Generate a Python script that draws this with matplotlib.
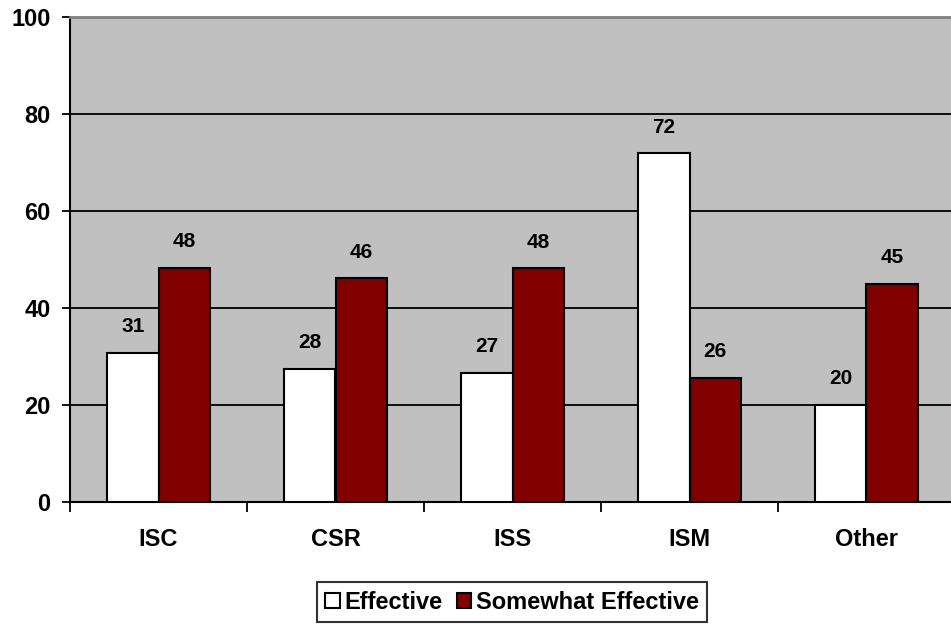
import matplotlib
matplotlib.use("Agg")
import matplotlib.pyplot as plt
import numpy as np

plt.rcParams['font.family'] = ['Liberation Sans', 'DejaVu Sans']
plt.rcParams['font.weight'] = 'bold'

# survey results, percent
categories = ["ISC", "CSR", "ISS", "ISM", "Other"]
effective = [30.8, 27.5, 26.7, 71.9, 20.0]
somewhat = [48.3, 46.1, 48.2, 25.6, 45.0]
series_names = ["Effective", "Somewhat Effective"]
yticks = [0, 20, 40, 60, 80, 100]

fig = plt.figure(figsize=(9.51, 6.24), dpi=100)
ax = fig.add_axes([70/951, 122/624, 885/951, 485/624])
ax.set_facecolor("#C0C0C0")

x = np.arange(len(categories))
w = 0.29
b1 = ax.bar(x - w/2, effective, w, color="white", edgecolor="black", linewidth=1.5,
            label=series_names[0], zorder=3)
b2 = ax.bar(x + w/2, somewhat, w, color="#800000", edgecolor="black", linewidth=1.5,
            label=series_names[1], zorder=3)

for bars in (b1, b2):
    for r in bars:
        h = r.get_height()
        ax.annotate("%.0f" % h, (r.get_x() + r.get_width()/2, h),
                    xytext=(0, 12), textcoords="offset points",
                    ha="center", va="bottom", fontsize=15, fontweight="bold")

ax.set_ylim(0, 100)
ax.set_xlim(-0.5, len(categories) - 0.5)
ax.set_yticks(yticks)
ax.yaxis.grid(True, color="black", linewidth=1.3, zorder=1)
ax.set_axisbelow(True)
ax.tick_params(axis="y", length=6, width=1.3, pad=8, labelsize=17)

# boundary ticks on the category axis, labels centred between them
ax.set_xticks(np.arange(len(categories)) - 0.5)
ax.set_xticklabels([])
ax.set_xticks(x, minor=True)
ax.set_xticklabels(categories, minor=True, fontsize=17, fontweight="bold")
ax.tick_params(axis="x", which="major", length=7, width=1.3)
ax.tick_params(axis="x", which="minor", length=0, pad=19)

for s in ("left", "bottom"):
    ax.spines[s].set_linewidth(1.5)
    ax.spines[s].set_color("black")
ax.spines["top"].set_color("#808080")
ax.spines["top"].set_linewidth(2)
ax.spines["right"].set_visible(False)

leg = fig.legend(handles=[b1, b2], loc="lower center", bbox_to_anchor=(512/951, 2/624),
                 ncol=2, frameon=True, fancybox=False, shadow=False, fontsize=17,
                 handlelength=0.6, handleheight=0.6, handletextpad=0.2,
                 columnspacing=0.6, borderpad=0.35, borderaxespad=0)
leg.get_frame().set_edgecolor("black")
leg.get_frame().set_linewidth(1.5)
for t in leg.get_texts():
    t.set_fontweight("bold")

fig.savefig("out.png", dpi=100)
